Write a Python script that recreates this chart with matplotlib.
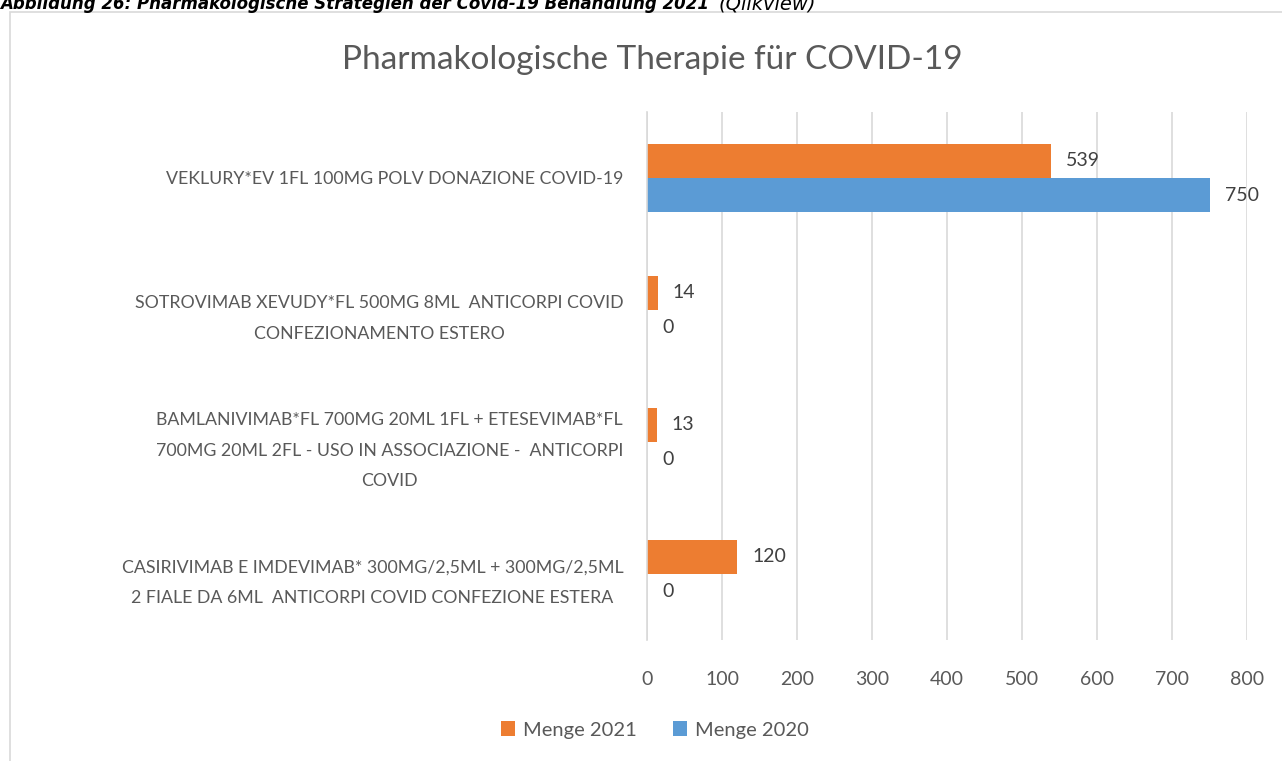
import matplotlib.pyplot as plt
import numpy as np

plt.rcParams["font.family"] = ["Lato", "DejaVu Sans"]

# data (top to bottom as shown)
categories = [
    "VEKLURY*EV 1FL 100MG POLV DONAZIONE COVID-19",
    "SOTROVIMAB XEVUDY*FL 500MG 8ML  ANTICORPI COVID\nCONFEZIONAMENTO ESTERO",
    "BAMLANIVIMAB*FL 700MG 20ML 1FL + ETESEVIMAB*FL\n700MG 20ML 2FL - USO IN ASSOCIAZIONE -  ANTICORPI\nCOVID",
    "CASIRIVIMAB E IMDEVIMAB* 300MG/2,5ML + 300MG/2,5ML\n2 FIALE DA 6ML  ANTICORPI COVID CONFEZIONE ESTERA",
]
menge_2021 = [539, 14, 13, 120]
menge_2020 = [750, 0, 0, 0]
xticks = [0, 100, 200, 300, 400, 500, 600, 700, 800]

TEXT = "#595959"
ORANGE = "#ED7D31"
BLUE = "#5B9BD5"

fig = plt.figure(figsize=(12.82, 7.61), dpi=100)

# outer chart border
fig.add_artist(plt.Rectangle((10 / 1282, -0.01), 1.0, 1 - 12 / 761 + 0.01,
                             transform=fig.transFigure, fill=False,
                             edgecolor="#d9d9d9", linewidth=1.2))

# caption cut off at the top
fig.text(0.0, 1 - 4 / 761, "Abbildung 26: Pharmakologische Strategien der Covid-19 Behandlung 2021",
         fontsize=12, fontweight="bold", style="italic", family="DejaVu Sans",
         ha="left", va="center", color="black")
fig.text(718 / 1282, 1 - 4 / 761, "(Qlikview)", fontsize=14, style="italic",
         family="DejaVu Sans", ha="left", va="center", color="black")

ax = fig.add_axes([647 / 1282, 1 - 640 / 761, 600 / 1282, 528 / 761])

y = np.arange(len(categories))
h = 0.26
ax.barh(y - h / 2, menge_2021, height=h, color=ORANGE, label="Menge 2021")
ax.barh(y + h / 2, menge_2020, height=h, color=BLUE, label="Menge 2020")

for i in range(len(categories)):
    ax.text(menge_2021[i] + 20, y[i] - h / 2, str(menge_2021[i]),
            va="center", ha="left", fontsize=14, color="#404040")
    ax.text(menge_2020[i] + 20, y[i] + h / 2, str(menge_2020[i]),
            va="center", ha="left", fontsize=14, color="#404040")

ax.set_ylim(len(categories) - 0.5, -0.5)
ax.set_xlim(0, 800)
ax.set_xticks(xticks)
ax.set_xticklabels([str(t) for t in xticks], fontsize=14, color=TEXT)
ax.set_yticks(y)
ax.set_yticklabels(categories, fontsize=12.8, color=TEXT, multialignment="center",
                   linespacing=2.1)
ax.tick_params(axis="both", length=0)
ax.tick_params(axis="y", pad=17)
ax.tick_params(axis="x", pad=22)

ax.grid(axis="x", color="#d9d9d9", linewidth=1.2)
ax.set_axisbelow(True)
for s in ["top", "right", "bottom"]:
    ax.spines[s].set_visible(False)
ax.spines["left"].set_color("#d9d9d9")
ax.spines["left"].set_linewidth(1.2)

fig.text(652 / 1282, 1 - 60 / 761, "Pharmakologische Therapie für COVID-19",
         fontsize=24, color=TEXT, ha="center", va="center")

fig.legend(loc="center", bbox_to_anchor=(655 / 1282, 1 - 730 / 761), ncol=2,
           frameon=False, fontsize=14.5, labelcolor=TEXT, handlelength=0.7,
           handleheight=0.7, handletextpad=0.4, columnspacing=1.8)

fig.savefig("out.png", dpi=100)
